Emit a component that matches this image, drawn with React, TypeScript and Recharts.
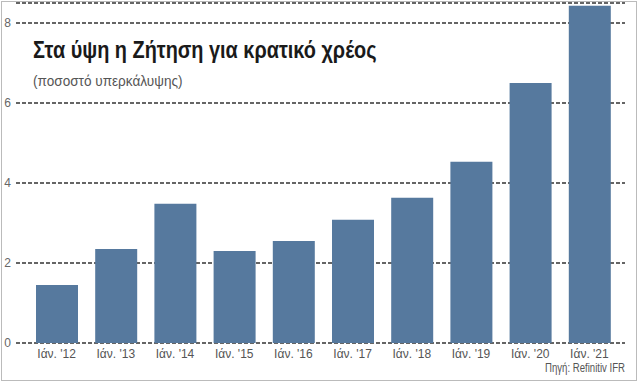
import React from "react";
import { BarChart, Bar, XAxis, YAxis, CartesianGrid } from "recharts";

const categories = ["Ιάν. '12", "Ιάν. '13", "Ιάν. '14", "Ιάν. '15", "Ιάν. '16", "Ιάν. '17", "Ιάν. '18", "Ιάν. '19", "Ιάν. '20", "Ιάν. '21"];
const coverage = [1.45, 2.35, 3.48, 2.3, 2.55, 3.08, 3.63, 4.53, 6.5, 8.43];
const yTicks = [0, 2, 4, 6, 8];

const title = "Στα ύψη η Ζήτηση για κρατικό χρέος";
const subtitle = "(ποσοστό υπερκάλυψης)";
const source = "Πηγή: Refinitiv IFR";

const data = categories.map((c, i) => ({ name: c, value: coverage[i] }));

const FONT = "'Liberation Sans Narrow', 'Liberation Sans', sans-serif";

export default function App() {
  return (
    <div style={{ position: "absolute", left: 0, top: 0, width: 638, height: 383, background: "#fff", fontFamily: FONT }}>
      <BarChart width={638} height={383} data={data} margin={{ top: 3, right: 13, bottom: 0, left: 0 }}>
        <CartesianGrid vertical={false} stroke="#333" strokeWidth={1.6} strokeDasharray="4 2" />
        <XAxis
          dataKey="name"
          axisLine={false}
          tickLine={false}
          tickSize={0}
          tickMargin={6}
          height={40}
          padding={{ left: 11, right: 6 }}
          interval={0}
          tick={{ fill: "#555", fontSize: 12, fontFamily: FONT }}
        />
        <YAxis
          domain={[0, 8.5]}
          ticks={yTicks}
          axisLine={false}
          tickLine={false}
          tickSize={0}
          tickMargin={5}
          width={16}
          tick={{ fill: "#666", fontSize: 12, fontFamily: FONT }}
        />
        <Bar dataKey="value" fill="#56799E" barSize={42} isAnimationActive={false} />
      </BarChart>
      <div style={{ position: "absolute", left: 1, top: 1, width: 634, height: 378, border: "1px solid #bbb", pointerEvents: "none" }} />
      <div style={{ position: "absolute", left: 33, top: 37, fontSize: 23, fontWeight: "bold", color: "#1a1a1a", whiteSpace: "nowrap", transform: "scaleX(0.864)", transformOrigin: "0 0" }}>{title}</div>
      <div style={{ position: "absolute", left: 33, top: 73, fontSize: 14, color: "#555", whiteSpace: "nowrap", transform: "scaleX(0.97)", transformOrigin: "0 0" }}>{subtitle}</div>
      <div style={{ position: "absolute", right: 13, top: 361, fontSize: 12, color: "#555", whiteSpace: "nowrap", transform: "scaleX(0.8)", transformOrigin: "100% 0" }}>{source}</div>
    </div>
  );
}
